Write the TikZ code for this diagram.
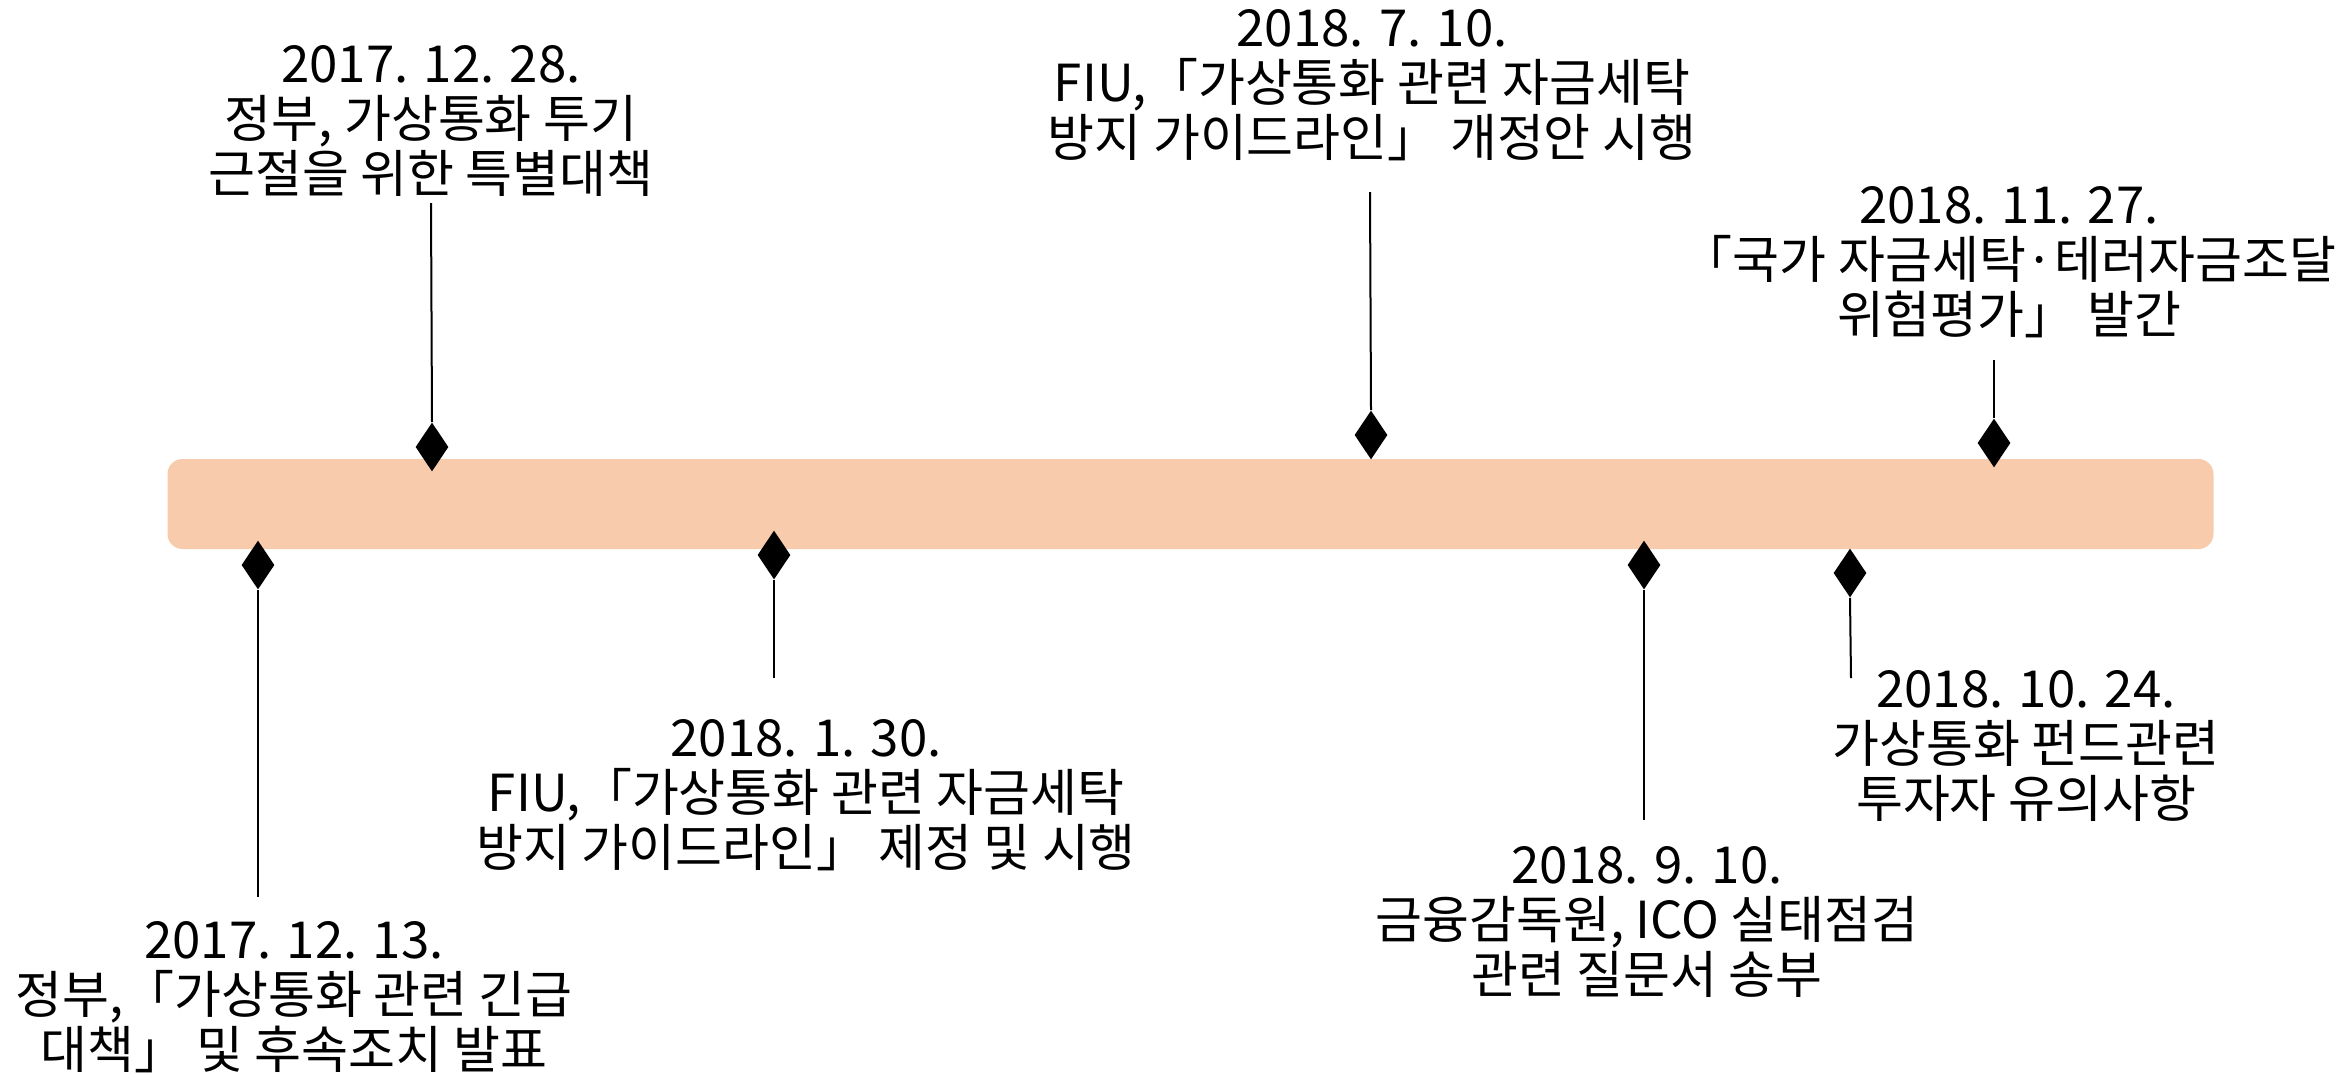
\documentclass[tikz,border=0pt]{standalone}
\usepackage{fontspec}
\setmainfont{Noto Sans CJK KR}
\usetikzlibrary{shapes.geometric}
\definecolor{barfill}{HTML}{F8CBAD}
\begin{document}
\begin{tikzpicture}[x=0.5pt,y=-0.5pt,
  evmark/.style={diamond,fill=black,draw=none,inner sep=0pt,minimum width=16.5pt,minimum height=24.5pt},
  evtext/.style={align=center,font=\fontsize{25.5pt}{27.5pt}\selectfont,inner sep=0pt},
  conn/.style={line width=1pt,black}]
\useasboundingbox (0,0) rectangle (2351,1078);
\node[fill=barfill,rounded corners=7.5pt,minimum width=1023pt,minimum height=45pt,inner sep=0pt] (bar) at (1190.5,504) {};
% diamonds
\node[evmark] (d1) at (432,447) {};
\node[evmark] (d2) at (258,565) {};
\node[evmark] (d3) at (774,555) {};
\node[evmark] (d4) at (1371,435) {};
\node[evmark] (d5) at (1644,565) {};
\node[evmark] (d6) at (1850,573) {};
\node[evmark] (d7) at (1994,443) {};
% texts
\node[evtext] (t1) at (431,121) {2017. 12. 28.\\정부, 가상통화 투기\\근절을 위한 특별대책};
\node[evtext] (t2) at (294,997) {2017. 12. 13.\\정부,「가상통화 관련 긴급\\대책」 및 후속조치 발표};
\node[evtext] (t3) at (806,795) {2018. 1. 30.\\FIU,「가상통화 관련 자금세탁\\방지 가이드라인」 제정 및 시행};
\node[evtext] (t4) at (1372,85) {2018. 7. 10.\\FIU,「가상통화 관련 자금세탁\\방지 가이드라인」 개정안 시행};
\node[evtext] (t5) at (1647,922) {2018. 9. 10.\\금융감독원, ICO 실태점검\\관련 질문서 송부};
\node[evtext] (t6) at (2026,746) {2018. 10. 24.\\가상통화 펀드관련\\투자자 유의사항};
\node[evtext] (t7) at (2009,262) {2018. 11. 27.\\「국가 자금세탁·테러자금조달\\위험평가」 발간};
% connector ends
\coordinate (e1) at (431,203);
\coordinate (e2) at (258,897);
\coordinate (e3) at (774,678);
\coordinate (e4) at (1370,192);
\coordinate (e5) at (1644,820);
\coordinate (e6) at (1851,678);
\coordinate (e7) at (1994,360);
\draw[conn] (d1.north) -- (e1);
\draw[conn] (d2.south) -- (e2);
\draw[conn] (d3.south) -- (e3);
\draw[conn] (d4.north) -- (e4);
\draw[conn] (d5.south) -- (e5);
\draw[conn] (d6.south) -- (e6);
\draw[conn] (d7.north) -- (e7);
\end{tikzpicture}
\end{document}
